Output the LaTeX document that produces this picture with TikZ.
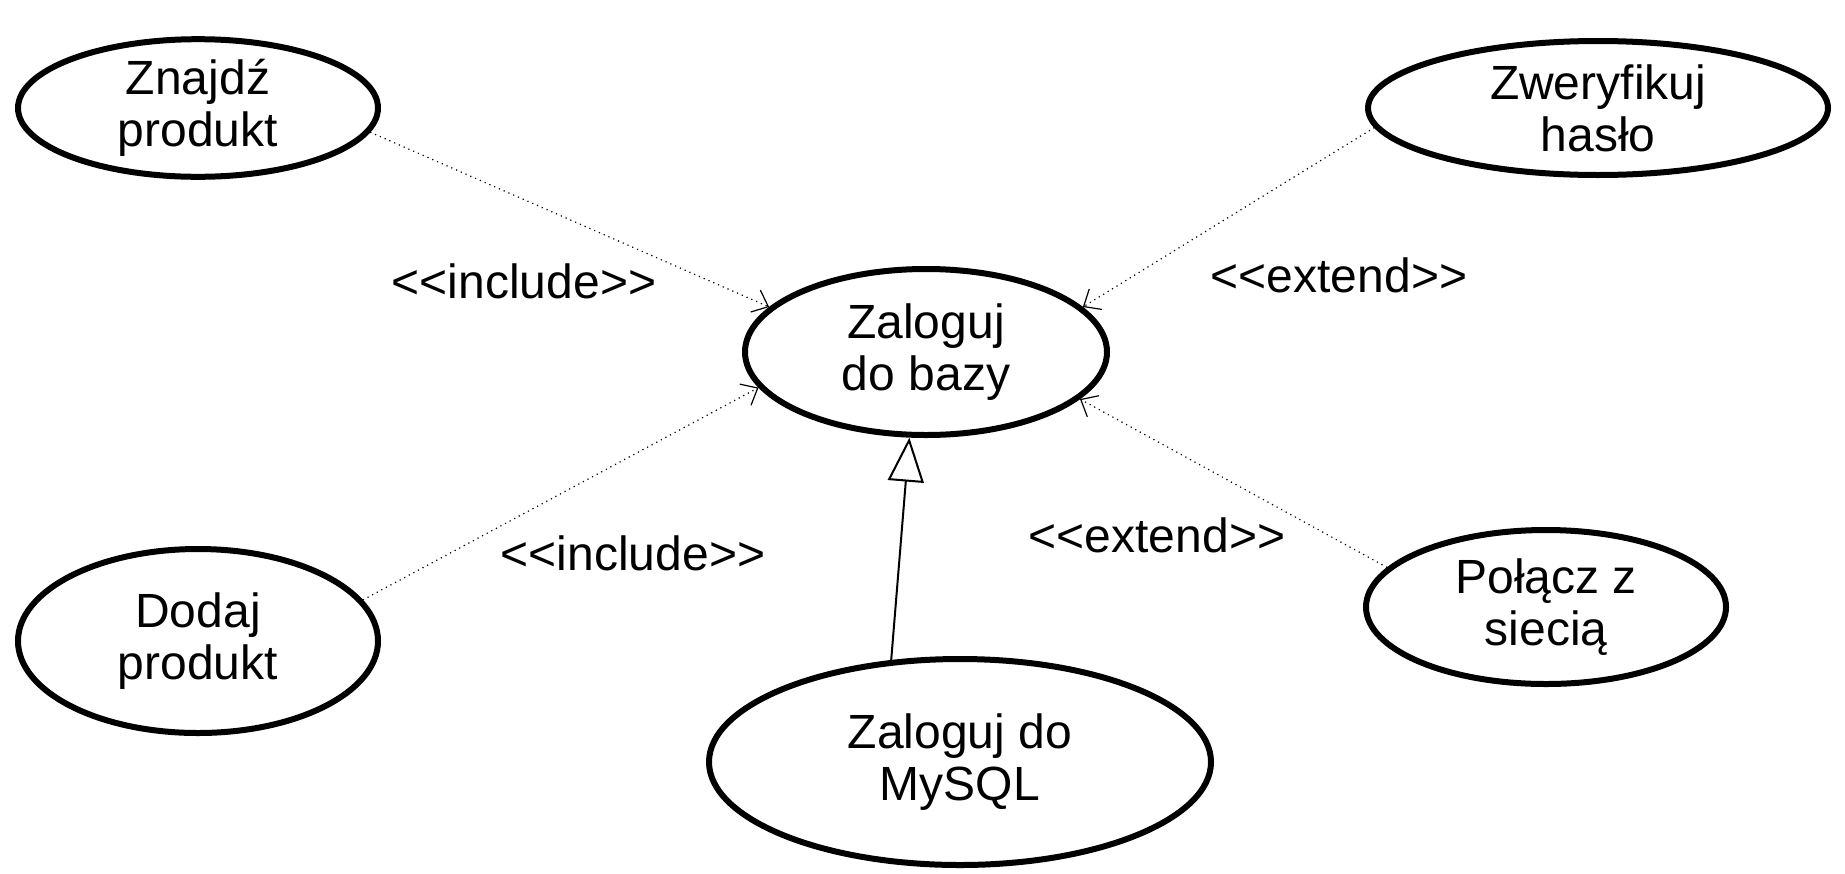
\documentclass[tikz,border=0pt]{standalone}
\usepackage{fontspec}
\setmainfont{Liberation Sans}
\usetikzlibrary{shapes.geometric, arrows.meta}
\tikzset{
    usecase/.style={draw, ellipse, line width=3pt, inner sep=0pt, align=center,
        font=\fontsize{24}{26}\selectfont},
    stereo/.style={font=\fontsize{24}{26}\selectfont},
    depend/.style={dotted, line width=0.6pt, -{Straight Barb[length=7pt, width=12pt]}},
    generalize/.style={line width=1pt, -{Triangle[open, length=22pt, width=18pt, fill=white]}}
}
\begin{document}
\begin{tikzpicture}[x=0.5pt, y=-0.5pt]
    \useasboundingbox (0,0) rectangle (1845,873);
    % use cases
    \draw (926,352) node[usecase, minimum width=181pt, minimum height=83pt](baza){Zaloguj\\do bazy};
    \draw (198,108) node[usecase, minimum width=180pt, minimum height=67pt](znajdz){Znajdź\\produkt};
    \draw (1598,108) node[usecase, minimum width=230pt, minimum height=67pt](haslo){Zweryfikuj\\hasło};
    \draw (198,641) node[usecase, minimum width=180pt, minimum height=92pt](dodaj){Dodaj\\produkt};
    \draw (1546,607) node[usecase, minimum width=180pt, minimum height=77pt](siec){Połącz z\\siecią};
    \draw (960,762) node[usecase, minimum width=251pt, minimum height=103pt](mysql){Zaloguj do\\MySQL};
    % relations
    \draw[depend] (znajdz.-8) to (baza.164);
    \draw[depend] (dodaj.14) to (baza.192);
    \draw[depend] (haslo.185) to (baza.16);
    \draw[depend] (siec.166) to (baza.-17);
    \draw[generalize] (mysql.124) to (baza.259);
    % stereotypes
    \draw (524,281) node[stereo](inctop){<{}<include>{}>};
    \draw (633,553) node[stereo](incbot){<{}<include>{}>};
    \draw (1339,275) node[stereo](exttop){<{}<extend>{}>};
    \draw (1157,535) node[stereo](extbot){<{}<extend>{}>};
\end{tikzpicture}
\end{document}
